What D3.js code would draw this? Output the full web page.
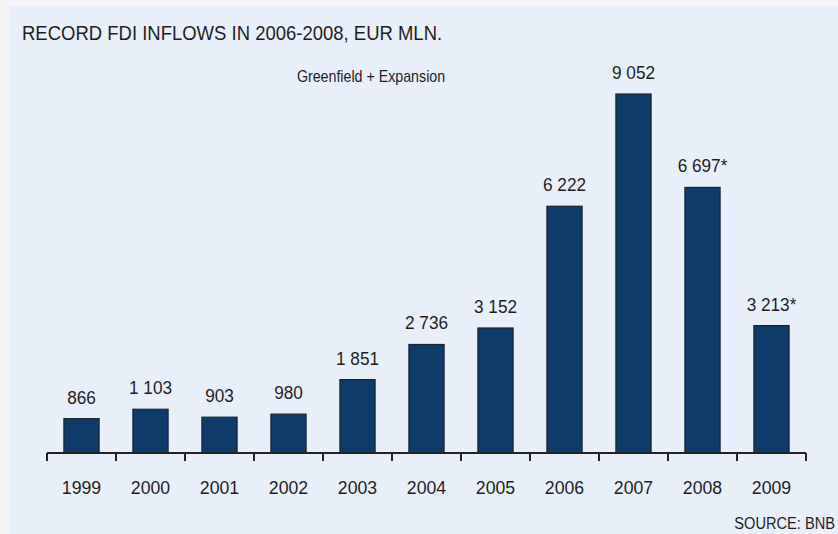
<!DOCTYPE html>
<html><head><meta charset="utf-8">
<script src="https://cdn.jsdelivr.net/npm/d3@7/dist/d3.min.js"></script>
<style>html,body{margin:0;padding:0;background:#f4f4f4;}svg{display:block;}</style>
</head><body>
<script>
const categories = ["1999","2000","2001","2002","2003","2004","2005","2006","2007","2008","2009"];
const values = [866, 1103, 903, 980, 1851, 2736, 3152, 6222, 9052, 6697, 3213];
const valueLabels = ["866","1 103","903","980","1 851","2 736","3 152","6 222","9 052","6 697*","3 213*"];
const titleText = "RECORD FDI INFLOWS IN 2006-2008, EUR MLN.";
const legendText = "Greenfield + Expansion";
const sourceText = "SOURCE: BNB";

const W = 838, H = 534;
const svg = d3.select("body").append("svg").attr("width", W).attr("height", H);
svg.append("rect").attr("width", W).attr("height", H).attr("fill", "#f5f5f5");
svg.append("rect").attr("x", 9).attr("y", 6).attr("width", W - 9).attr("height", H - 6).attr("fill", "#e9eff8");

const font = "'Liberation Sans', Arial, Helvetica, sans-serif";
const txtColor = "#1e1e1e";

function text(x, y, s, size, sx, anchor, weight) {
  svg.append("text")
    .attr("transform", `translate(${x},${y}) scale(${sx},1)`)
    .attr("text-anchor", anchor || "start")
    .attr("font-family", font)
    .attr("font-size", size)
    .attr("font-weight", weight || "normal")
    .attr("fill", txtColor)
    .text(s);
}

const pad = 0.49;
const x = d3.scaleBand().domain(categories).range([47, 806]).paddingInner(pad).paddingOuter(pad / 2);
const y = d3.scaleLinear().domain([0, 9052]).range([453, 94]);

// bars
svg.selectAll("rect.bar").data(values).enter().append("rect")
  .attr("class", "bar")
  .attr("x", (d, i) => x(categories[i]))
  .attr("width", x.bandwidth())
  .attr("y", d => y(d))
  .attr("height", d => y(0) - y(d))
  .attr("fill", "#0e3b69")
  .attr("stroke", "#1c2430")
  .attr("stroke-width", 1.2);

// value labels
values.forEach((v, i) => {
  text(x(categories[i]) + x.bandwidth() / 2, y(v) - 15, valueLabels[i], 18.5, 0.93, "middle");
});

// axis line and boundary ticks
const step = x.step();
const bounds = categories.map(c => x(c) - step * pad / 2).concat([x(categories[categories.length - 1]) + x.bandwidth() + step * pad / 2]);
svg.append("line").attr("x1", bounds[0]).attr("x2", bounds[bounds.length - 1])
  .attr("y1", y(0)).attr("y2", y(0)).attr("stroke", "#222").attr("stroke-width", 2);
svg.selectAll("line.tick").data(bounds).enter().append("line")
  .attr("x1", d => d).attr("x2", d => d)
  .attr("y1", y(0)).attr("y2", y(0) + 8)
  .attr("stroke", "#222").attr("stroke-width", 2);

// category labels
categories.forEach(c => {
  text(x(c) + x.bandwidth() / 2, 494, c, 19, 0.93, "middle");
});

// title, legend, source
text(22, 40, titleText, 20, 0.925, "start");
text(371, 82, legendText, 16, 0.89, "middle");
text(835, 529, sourceText, 17, 0.86, "end");
</script>
</body></html>
